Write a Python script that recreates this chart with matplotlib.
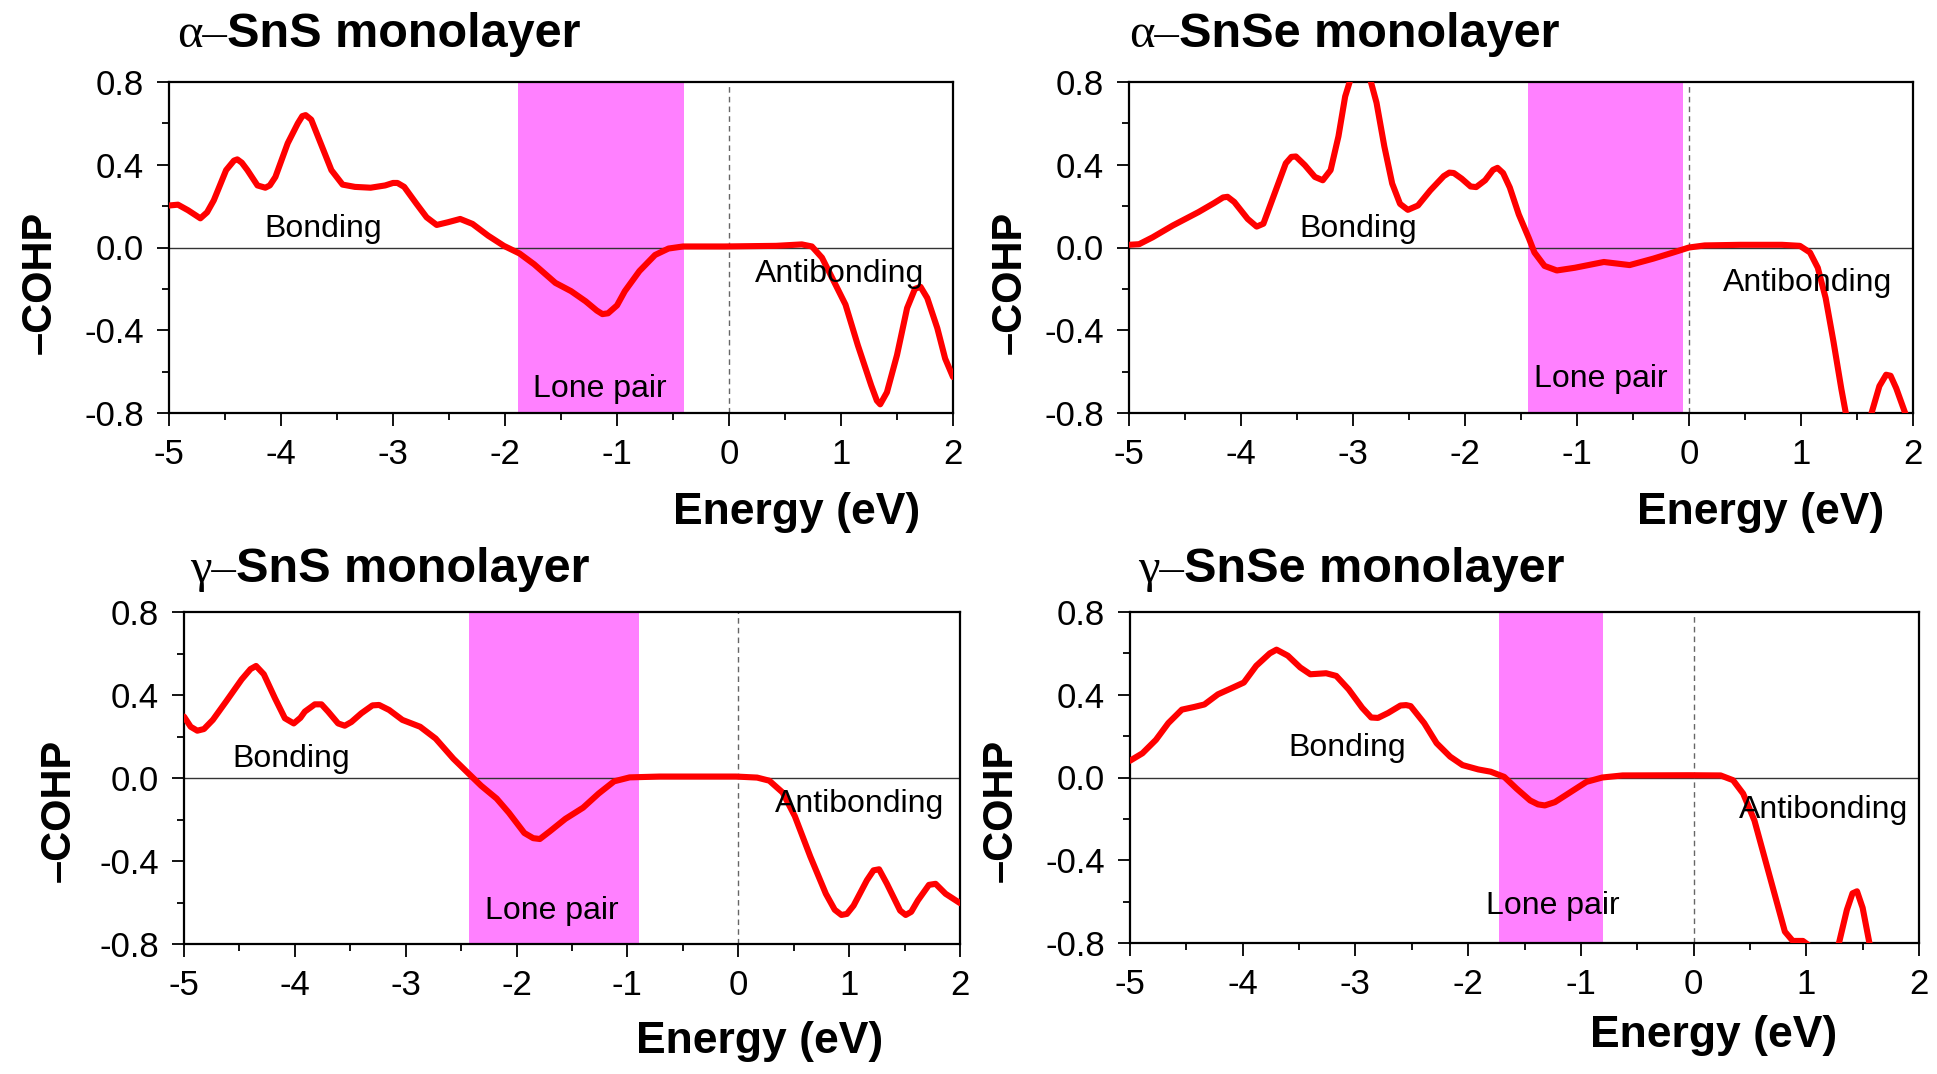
import matplotlib
matplotlib.use("Agg")
import matplotlib.pyplot as plt
from matplotlib.ticker import MultipleLocator

plt.rcParams['font.family'] = ['Liberation Sans', 'DejaVu Sans']

# ---------------- data ----------------
# alpha-SnS
e_a_sns = [-5.0, -4.92, -4.83, -4.72, -4.66, -4.6, -4.49, -4.42, -4.39, -4.35, -4.3, -4.21, -4.14,
           -4.1, -4.05, -3.94, -3.85, -3.81, -3.78, -3.73, -3.64, -3.55, -3.45, -3.34, -3.2, -3.07,
           -3.0, -2.96, -2.9, -2.79, -2.7, -2.61, -2.51, -2.4, -2.29, -2.15, -2.01, -1.87, -1.74,
           -1.55, -1.41, -1.28, -1.18, -1.13, -1.08, -1.0, -0.93, -0.8, -0.66, -0.54, -0.41, -0.04,
           0.42, 0.65, 0.74, 0.83, 0.92, 1.04, 1.15, 1.27, 1.32, 1.35, 1.41, 1.5, 1.59, 1.66, 1.71,
           1.77, 1.86, 1.93, 2.0]
c_a_sns = [0.203, 0.207, 0.18, 0.141, 0.17, 0.228, 0.374, 0.42, 0.426, 0.41, 0.374, 0.30, 0.289,
           0.30, 0.341, 0.504, 0.60, 0.635, 0.64, 0.618, 0.496, 0.374, 0.304, 0.293, 0.289, 0.30,
           0.312, 0.312, 0.293, 0.211, 0.146, 0.109, 0.122, 0.138, 0.114, 0.057, 0.008, -0.029,
           -0.081, -0.171, -0.211, -0.26, -0.305, -0.322, -0.318, -0.28, -0.211, -0.114, -0.036,
           -0.005, 0.005, 0.005, 0.008, 0.015, 0.005, -0.049, -0.146, -0.276, -0.472, -0.667,
           -0.74, -0.758, -0.70, -0.52, -0.293, -0.2, -0.19, -0.244, -0.39, -0.537, -0.626]

# alpha-SnSe
e_a_snse = [-5.0, -4.91, -4.79, -4.61, -4.38, -4.24, -4.16, -4.12, -4.06, -3.94, -3.86, -3.8, -3.69,
            -3.6, -3.55, -3.51, -3.43, -3.34, -3.27, -3.2, -3.13, -3.07, -3.03, -2.98, -2.92, -2.88,
            -2.84, -2.79, -2.72, -2.65, -2.58, -2.51, -2.42, -2.31, -2.19, -2.14, -2.1, -2.03,
            -1.95, -1.9, -1.82, -1.75, -1.71, -1.66, -1.6, -1.52, -1.43, -1.38, -1.29, -1.18, -1.02,
            -0.76, -0.53, -0.32, -0.14, 0.0, 0.14, 0.46, 0.83, 0.99, 1.08, 1.15, 1.22, 1.29, 1.36,
            1.40, 1.45, 1.52, 1.58, 1.63, 1.70, 1.76, 1.80, 1.85, 1.93, 2.0]
c_a_snse = [0.013, 0.016, 0.049, 0.106, 0.171, 0.215, 0.242, 0.245, 0.22, 0.138, 0.101, 0.115,
            0.276, 0.407, 0.438, 0.44, 0.398, 0.341, 0.325, 0.374, 0.537, 0.73, 0.80, 0.92, 0.95,
            0.90, 0.80, 0.70, 0.488, 0.309, 0.211, 0.182, 0.203, 0.276, 0.345, 0.362, 0.36, 0.333,
            0.295, 0.292, 0.325, 0.375, 0.385, 0.36, 0.29, 0.16, 0.045, -0.024, -0.089, -0.111,
            -0.098, -0.07, -0.085, -0.054, -0.024, 0.0, 0.01, 0.013, 0.013, 0.008, -0.024, -0.098,
            -0.244, -0.455, -0.683, -0.80, -0.92, -0.95, -0.90, -0.80, -0.67, -0.615, -0.62, -0.68,
            -0.80, -0.90]

# gamma-SnS
e_g_sns = [-5.0, -4.94, -4.88, -4.82, -4.74, -4.62, -4.48, -4.4, -4.35, -4.28, -4.18, -4.09, -4.01,
           -3.95, -3.91, -3.82, -3.76, -3.7, -3.61, -3.55, -3.49, -3.4, -3.3, -3.24, -3.15, -3.03,
           -2.87, -2.73, -2.57, -2.43, -2.32, -2.18, -2.07, -1.93, -1.85, -1.79, -1.7, -1.56, -1.4,
           -1.26, -1.12, -0.98, -0.71, -0.02, 0.17, 0.28, 0.40, 0.51, 0.65, 0.79, 0.87, 0.93, 0.98,
           1.04, 1.16, 1.22, 1.27, 1.34, 1.46, 1.51, 1.56, 1.62, 1.72, 1.78, 1.87, 2.0]
c_g_sns = [0.296, 0.247, 0.228, 0.236, 0.28, 0.369, 0.475, 0.525, 0.54, 0.50, 0.385, 0.288, 0.263,
           0.29, 0.32, 0.355, 0.355, 0.32, 0.263, 0.252, 0.27, 0.312, 0.35, 0.352, 0.328, 0.28,
           0.247, 0.19, 0.093, 0.02, -0.037, -0.099, -0.167, -0.265, -0.29, -0.294, -0.257, -0.197,
           -0.143, -0.075, -0.016, 0.003, 0.007, 0.007, 0.002, -0.013, -0.07, -0.184, -0.379,
           -0.558, -0.635, -0.66, -0.655, -0.615, -0.493, -0.445, -0.44, -0.509, -0.639, -0.66,
           -0.645, -0.59, -0.515, -0.51, -0.558, -0.603]

# gamma-SnSe
e_g_snse = [-5.0, -4.89, -4.77, -4.66, -4.54, -4.43, -4.34, -4.22, -4.11, -3.99, -3.88, -3.76, -3.7,
            -3.6, -3.49, -3.4, -3.26, -3.17, -3.06, -2.94, -2.86, -2.8, -2.71, -2.6, -2.55, -2.51,
            -2.39, -2.28, -2.16, -2.05, -1.91, -1.8, -1.68, -1.57, -1.45, -1.38, -1.32, -1.23, -1.09,
            -0.95, -0.81, -0.63, -0.04, 0.24, 0.35, 0.44, 0.54, 0.63, 0.72, 0.81, 0.88, 0.97, 1.02,
            1.1, 1.2, 1.29, 1.36, 1.41, 1.45, 1.50, 1.56, 1.65, 1.8, 2.0]
c_g_snse = [0.081, 0.117, 0.182, 0.263, 0.328, 0.341, 0.353, 0.402, 0.429, 0.459, 0.54, 0.60, 0.618,
            0.589, 0.532, 0.499, 0.504, 0.491, 0.426, 0.337, 0.29, 0.288, 0.312, 0.348, 0.35, 0.345,
            0.263, 0.166, 0.101, 0.06, 0.039, 0.028, 0.003, -0.054, -0.111, -0.13, -0.135, -0.119,
            -0.07, -0.021, 0.0, 0.01, 0.011, 0.01, -0.013, -0.078, -0.208, -0.387, -0.566, -0.745,
            -0.79, -0.79, -0.81, -0.9, -0.9, -0.8, -0.64, -0.56, -0.55, -0.63, -0.8, -0.92, -0.95,
            -0.95]

# lone pair windows (eV)
lp_a_sns = (-1.88, -0.40)
lp_a_snse = (-1.44, -0.05)
lp_g_sns = (-2.43, -0.90)
lp_g_snse = (-1.73, -0.80)

titles = ["SnS monolayer", "SnSe monolayer", "SnS monolayer", "SnSe monolayer"]
greek = ["\u03b1\u2013", "\u03b1\u2013", "\u03b3\u2013", "\u03b3\u2013"]
xticks = [-5, -4, -3, -2, -1, 0, 1, 2]
yticks = [-0.8, -0.4, 0.0, 0.4, 0.8]

W, H = 1937, 1074
fig = plt.figure(figsize=(W / 100, H / 100), dpi=100)


def px_axes(l, r, t, b):
    return fig.add_axes([l / W, 1 - b / H, (r - l) / W, (b - t) / H])


def draw_panel(ax, e, c, lp, txt_pos):
    ax.axvspan(lp[0], lp[1], color='#ff80ff', lw=0, zorder=1)
    ax.axhline(0, color='#333333', lw=1.0, zorder=2)
    ax.axvline(0, color='#666666', lw=1.0, ls=(0, (4, 3)), zorder=2)
    ax.plot(e, c, color='#ff0000', lw=4.4, zorder=3,
            solid_capstyle='round', solid_joinstyle='round')
    ax.set_xlim(-5, 2)
    ax.set_ylim(-0.8, 0.8)
    ax.set_xticks(xticks)
    ax.set_xticklabels([str(t) for t in xticks])
    ax.set_yticks(yticks)
    ax.set_yticklabels(["%.1f" % t for t in yticks])
    ax.xaxis.set_minor_locator(MultipleLocator(0.5))
    ax.yaxis.set_minor_locator(MultipleLocator(0.2))
    ax.tick_params(which='major', direction='out', length=9, width=1.3, labelsize=25, pad=9)
    ax.tick_params(which='minor', direction='out', length=5, width=1.3)
    ax.tick_params(top=False, right=False, which='both')
    for s in ax.spines.values():
        s.set_linewidth(1.6)
    labels = ["Bonding", "Lone pair", "Antibonding"]
    for lab, (x, y) in zip(labels, txt_pos):
        ax.text(x, y, lab, fontsize=23, ha='center', va='center', zorder=4)


ax1 = px_axes(169, 953, 82, 413)
draw_panel(ax1, e_a_sns, c_a_sns, lp_a_sns,
           [(-3.62, 0.09), (-1.15, -0.683), (0.99, -0.13)])
ax2 = px_axes(1129, 1913, 82, 413)
draw_panel(ax2, e_a_snse, c_a_snse, lp_a_snse,
           [(-2.95, 0.09), (-0.79, -0.634), (1.06, -0.171)])
ax3 = px_axes(184, 960, 612, 944)
draw_panel(ax3, e_g_sns, c_g_sns, lp_g_sns,
           [(-4.03, 0.093), (-1.68, -0.64), (1.09, -0.127)])
ax4 = px_axes(1130, 1919, 612, 943)
draw_panel(ax4, e_g_snse, c_g_snse, lp_g_snse,
           [(-3.07, 0.141), (-1.25, -0.623), (1.15, -0.156)])

# titles: greek prefix in serif, rest bold sans
tpos = [(177, 47), (1129, 47), (190, 582), (1138, 582)]
for (x, y), g, t in zip(tpos, greek, titles):
    tx = fig.text(x / W, 1 - y / H, g, family=['Liberation Serif', 'DejaVu Serif'],
                  fontsize=35, ha='left', va='baseline')
    ax1.annotate(t, xy=(1, 0), xycoords=tx, fontsize=35, fontweight='bold',
                 ha='left', va='bottom', annotation_clip=False)

# x labels
for x, y in [(797, 524), (1761, 524), (760, 1053), (1714, 1047)]:
    fig.text(x / W, 1 - y / H, "Energy (eV)", fontsize=32, fontweight='bold',
             ha='center', va='baseline')

# y labels
for x, y in [(40, 282), (1010, 282), (59, 810), (1001, 810)]:
    fig.text(x / W, 1 - y / H, "\u2013COHP", fontsize=30, fontweight='bold',
             ha='center', va='center', rotation=90)

fig.savefig("out.png", dpi=100)
